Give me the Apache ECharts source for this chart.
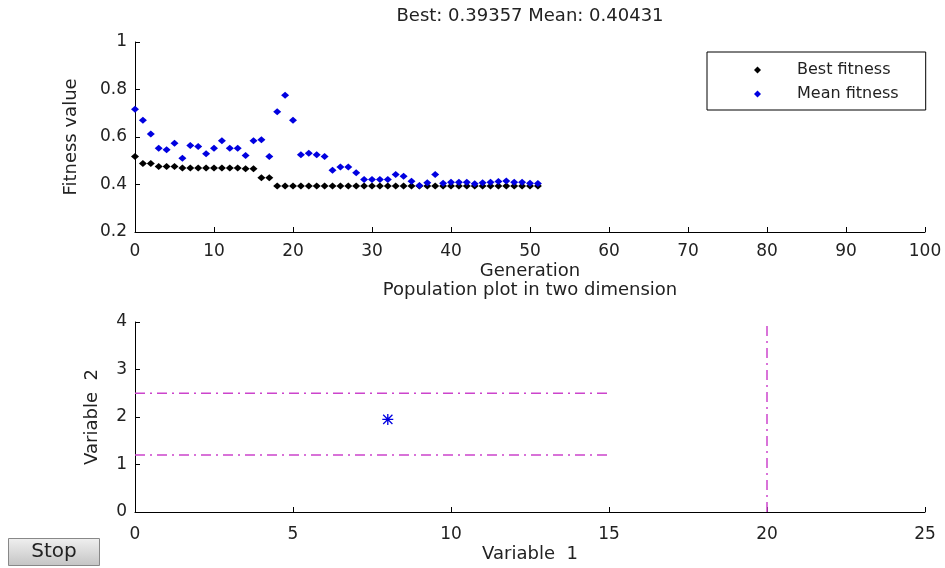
<!DOCTYPE html>
<html>
<head>
<meta charset="utf-8">
<script src="https://cdn.jsdelivr.net/npm/echarts@6/dist/echarts.min.js"></script>
<style>
html,body{margin:0;padding:0;background:#fff;}
#chart{width:945px;height:568px;}
</style>
</head>
<body>
<div id="chart"></div>
<script>
// ---- data ----
var generations = [0,1,2,3,4,5,6,7,8,9,10,11,12,13,14,15,16,17,18,19,20,21,22,23,24,25,26,27,28,29,30,31,32,33,34,35,36,37,38,39,40,41,42,43,44,45,46,47,48,49,50,51];
var bestFitness = [0.518,0.488,0.488,0.476,0.476,0.476,0.470,0.470,0.470,0.470,0.470,0.470,0.470,0.470,0.466,0.466,0.428,0.428,
  0.39357,0.39357,0.39357,0.39357,0.39357,0.39357,0.39357,0.39357,0.39357,0.39357,0.39357,0.39357,0.39357,0.39357,0.39357,0.39357,
  0.39357,0.39357,0.39357,0.39357,0.39357,0.39357,0.39357,0.39357,0.39357,0.39357,0.39357,0.39357,0.39357,0.39357,0.39357,0.39357,0.39357,0.39357];
var meanFitness = [0.717,0.671,0.613,0.553,0.546,0.574,0.511,0.564,0.560,0.529,0.553,0.584,0.553,0.553,0.522,0.584,0.588,0.518,
  0.706,0.776,0.671,0.525,0.532,0.525,0.518,0.460,0.474,0.474,0.449,0.421,0.421,0.421,0.421,0.442,0.435,0.414,0.396,0.407,0.442,
  0.405,0.410,0.410,0.410,0.403,0.407,0.410,0.413,0.415,0.410,0.410,0.405,0.404];
var boundUpper = [[0,2.5],[15,2.5]];
var boundLower = [[0,1.2],[15,1.2]];
var boundVertical = [[20,0],[20,4]];
var populationPoints = [[8,1.95]];
var topTitle = 'Best: 0.39357 Mean: 0.40431';
var bottomTitle = 'Population plot in two dimension';

function pairs(xs, ys){ return xs.map(function(x,i){ return [x, ys[i]]; }); }

var textColor = '#222';
var font = 'DejaVu Sans, sans-serif';
var magenta = '#cc44cc';
var asterisk = 'path://M0,4.4L10,4.4L10,5.6L0,5.6Z M4.4,0L5.6,0L5.6,10L4.4,10Z M1.2,0.4L9.6,8.8L8.8,9.6L0.4,1.2Z M8.8,0.4L9.6,1.2L1.2,9.6L0.4,8.8Z';

function axisCommon(){
  return {
    axisLine:{show:true,onZero:false,lineStyle:{color:'#000',width:1}},
    axisTick:{show:true,inside:true,length:5,lineStyle:{color:'#000'}},
    splitLine:{show:false},
    axisLabel:{color:textColor,fontSize:17,fontFamily:font},
    nameTextStyle:{color:textColor,fontSize:18,fontFamily:font},
    nameLocation:'middle'
  };
}

var chart = echarts.init(document.getElementById('chart'));
var xTop = Object.assign(axisCommon(), {type:'value',gridIndex:0,min:0,max:100,interval:10,name:'Generation',nameGap:30});
xTop.axisLabel.margin = 11;
var yTop = Object.assign(axisCommon(), {type:'value',gridIndex:0,min:0.2,max:1,interval:0.2,name:'Fitness value',nameGap:55});
yTop.axisLabel.margin = 8;
yTop.axisLabel.formatter = function(v){ return String(Math.round(v*10)/10); };
var xBot = Object.assign(axisCommon(), {type:'value',gridIndex:1,min:0,max:25,interval:5,name:'Variable  1',nameGap:33});
xBot.axisLabel.margin = 14;
var yBot = Object.assign(axisCommon(), {type:'value',gridIndex:1,min:0,max:4,interval:1,name:'Variable  2',nameGap:34});
yBot.axisLabel.margin = 8;

chart.setOption({
  animation:false,
  backgroundColor:'#fff',
  textStyle:{fontFamily:font},
  title:[
    {text:topTitle,left:530,top:7,padding:0,textAlign:'center',textStyle:{fontSize:18,fontWeight:'normal',color:textColor,fontFamily:font}},
    {text:bottomTitle,left:530,top:281,padding:0,textAlign:'center',textStyle:{fontSize:18,fontWeight:'normal',color:textColor,fontFamily:font}}
  ],
  legend:{
    orient:'vertical',left:707,top:52,
    borderColor:'#000',borderWidth:1,
    padding:[10,27,8,47],itemGap:8,
    itemWidth:7,itemHeight:7,
    textStyle:{color:textColor,fontSize:16,fontFamily:font,padding:[0,0,0,31]},
    data:[{name:'Best fitness',icon:'diamond'},{name:'Mean fitness',icon:'diamond'}]
  },
  grid:[
    {left:135,right:20,top:42,height:190},
    {left:135,right:20,top:322,height:190}
  ],
  xAxis:[xTop,xBot],
  yAxis:[yTop,yBot],
  series:[
    {name:'Best fitness',type:'scatter',xAxisIndex:0,yAxisIndex:0,symbol:'diamond',symbolSize:[8,7],
     itemStyle:{color:'#000',opacity:1},data:pairs(generations,bestFitness)},
    {name:'Mean fitness',type:'scatter',xAxisIndex:0,yAxisIndex:0,symbol:'diamond',symbolSize:[8,7],
     itemStyle:{color:'#0000e0',opacity:1},data:pairs(generations,meanFitness)},
    {name:'upper',type:'line',xAxisIndex:1,yAxisIndex:1,showSymbol:false,symbol:'none',
     lineStyle:{color:magenta,width:1.5,type:[10,5,2,5]},data:boundUpper},
    {name:'lower',type:'line',xAxisIndex:1,yAxisIndex:1,showSymbol:false,symbol:'none',
     lineStyle:{color:magenta,width:1.5,type:[10,5,2,5]},data:boundLower},
    {name:'vertical',type:'line',xAxisIndex:1,yAxisIndex:1,showSymbol:false,symbol:'none',
     lineStyle:{color:magenta,width:1.5,type:[10,5,2,5]},data:boundVertical},
    {name:'population',type:'scatter',xAxisIndex:1,yAxisIndex:1,symbol:asterisk,symbolSize:11,
     itemStyle:{color:'#0000e0',opacity:1},data:populationPoints}
  ],
  graphic:[
    {type:'group',left:8,top:538,children:[
      {type:'rect',shape:{x:0,y:0,width:91,height:27},
       style:{fill:new echarts.graphic.LinearGradient(0,0,0,1,[{offset:0,color:'#f0f0f0'},{offset:1,color:'#c4c4c4'}]),stroke:'#888',lineWidth:1}},
      {type:'text',x:45.5,y:13.5,style:{text:'Stop',fontSize:20,fontFamily:'DejaVu Sans, sans-serif',fill:'#222',align:'center',verticalAlign:'middle'}}
    ]}
  ]
});
</script>
</body>
</html>
